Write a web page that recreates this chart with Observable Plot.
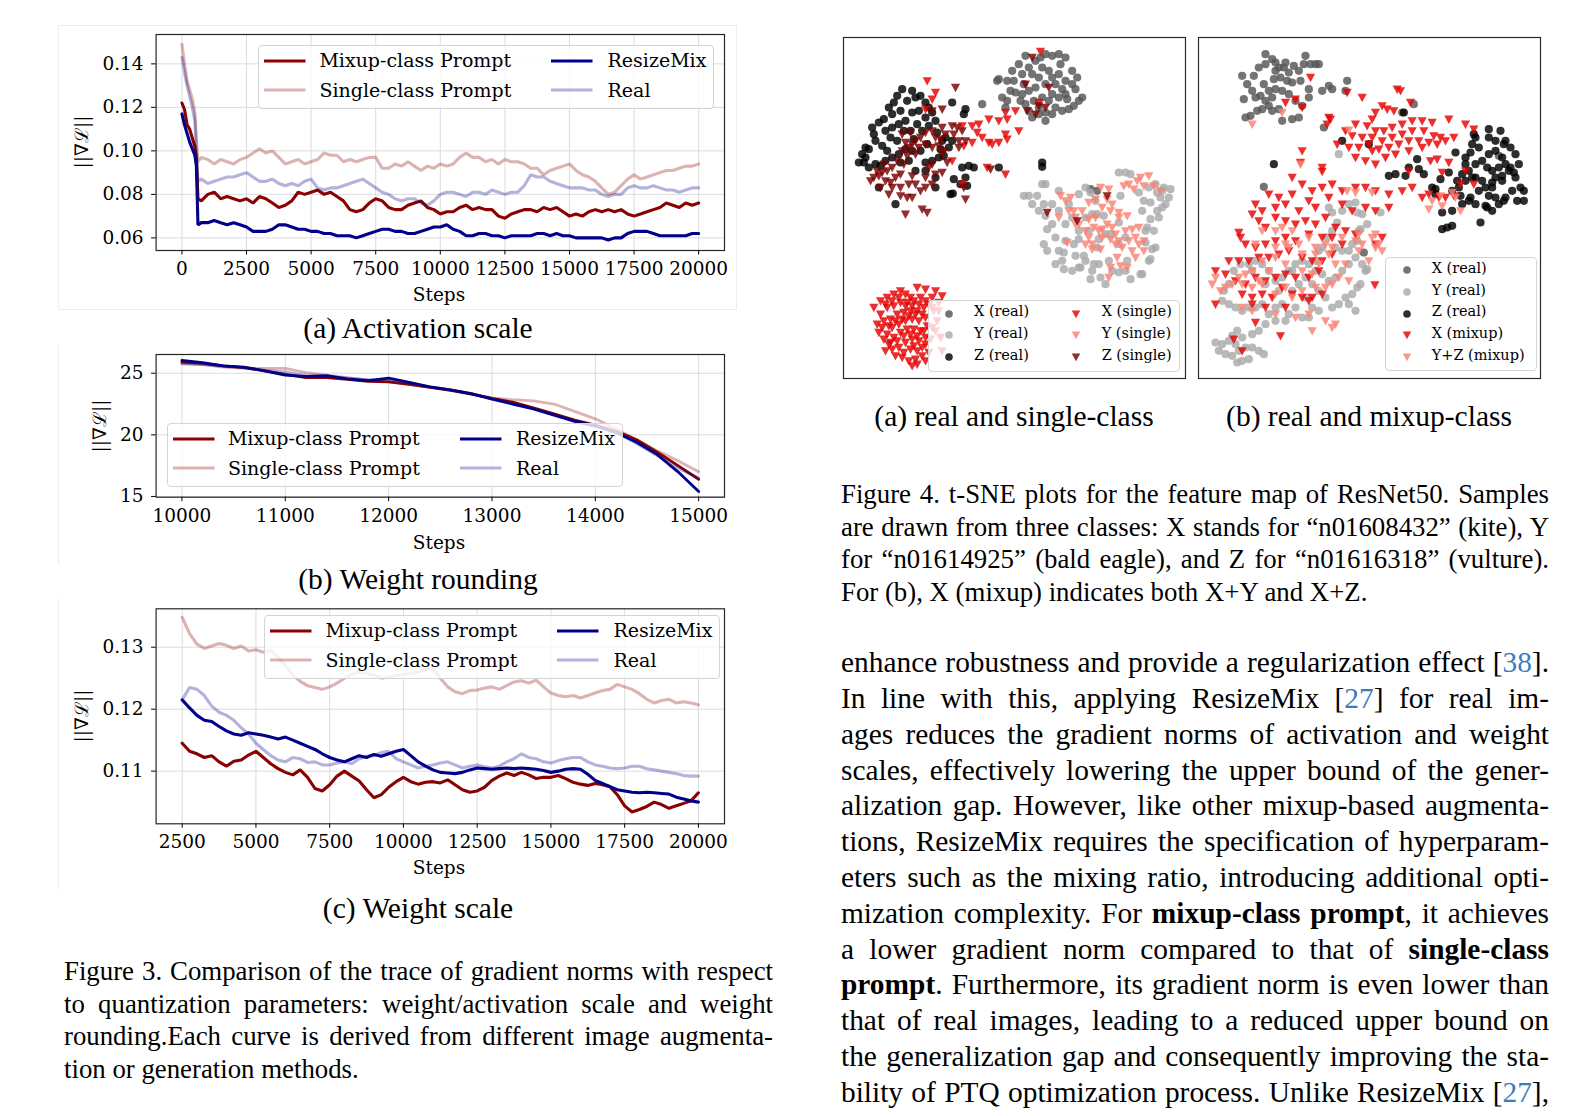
<!DOCTYPE html>
<html><head><meta charset="utf-8">
<script src="https://cdn.jsdelivr.net/npm/d3@7"></script>
<script src="https://cdn.jsdelivr.net/npm/@observablehq/plot@0.6"></script>
<style>
html,body{margin:0;padding:0;background:#fff;}
#page{position:relative;width:1595px;height:1116px;overflow:hidden;background:#fff;}
.ser{font-family:'Liberation Serif','Times New Roman',serif;color:#000;}
.dv{font-family:'DejaVu Serif',serif;color:#000;}
.jl{white-space:nowrap;overflow:visible;}
.cite{color:#3c7dc0;}
svg{overflow:visible;}
</style></head><body><div id="page"></div>
<script>
// ---------------- DATA ----------------
const seriesNames = ["Mixup-class Prompt", "Single-class Prompt", "ResizeMix", "Real"];
const seriesColors = ["#8b0000", "#8b0000", "#00008b", "#00008b"];
const seriesOpacity = [1, 0.3, 1, 0.3];

// (a) Activation scale
const stepsA = [0,100,200,300,400,500,560,620,750].concat(d3.range(1000, 20001, 250));
const mixupA = [0.122,0.119,0.112,0.110,0.106,0.102,0.097,0.078,0.077,
 0.080,0.081,0.078,0.079, 0.078,0.077,0.078,0.076, 0.079,0.078,0.076,0.074, 0.075,0.077,0.081,0.080,
 0.081,0.082,0.080,0.081, 0.079,0.077,0.073,0.072, 0.073,0.076,0.078,0.077, 0.074,0.073,0.073,0.075,
 0.076,0.077,0.074,0.073, 0.071,0.072,0.072,0.074, 0.075,0.073,0.074,0.073, 0.073,0.070,0.069,0.071,
 0.072,0.073,0.073,0.072, 0.074,0.073,0.074,0.072, 0.070,0.071,0.070,0.072, 0.073,0.072,0.073,0.072,
 0.073,0.071,0.070,0.071, 0.072,0.073,0.074,0.076, 0.075,0.074,0.076,0.075, 0.076];
const singleA = [0.149,0.140,0.132,0.128,0.124,0.118,0.105,0.095,0.097,
 0.096,0.094,0.096,0.095, 0.094,0.096,0.097,0.099, 0.101,0.099,0.100,0.097, 0.094,0.095,0.096,0.094,
 0.095,0.096,0.099,0.098, 0.098,0.095,0.096,0.095, 0.096,0.097,0.097,0.092, 0.092,0.094,0.093,0.095,
 0.093,0.091,0.093,0.092, 0.094,0.093,0.094,0.097, 0.099,0.097,0.097,0.095, 0.096,0.094,0.096,0.095,
 0.095,0.094,0.092,0.092, 0.089,0.091,0.092,0.093, 0.094,0.091,0.089,0.088, 0.086,0.083,0.080,0.081,
 0.084,0.087,0.089,0.087, 0.088,0.089,0.090,0.091, 0.091,0.092,0.093,0.093, 0.094];
const resizeA = [0.117,0.112,0.108,0.104,0.101,0.098,0.093,0.066,0.067,
 0.067,0.068,0.067,0.066, 0.067,0.066,0.065,0.063, 0.063,0.063,0.064,0.066, 0.066,0.065,0.064,0.064,
 0.063,0.063,0.062,0.062, 0.061,0.061,0.061,0.060, 0.061,0.062,0.063,0.064, 0.064,0.063,0.063,0.062,
 0.062,0.063,0.064,0.065, 0.065,0.066,0.064,0.063, 0.061,0.061,0.062,0.062, 0.061,0.061,0.060,0.061,
 0.061,0.061,0.061,0.062, 0.062,0.061,0.062,0.061, 0.061,0.060,0.060,0.060, 0.060,0.060,0.059,0.060,
 0.060,0.062,0.063,0.063, 0.063,0.062,0.061,0.061, 0.061,0.061,0.061,0.062, 0.062];
const realA = [0.143,0.136,0.130,0.125,0.120,0.114,0.100,0.086,0.087,
 0.085,0.086,0.087,0.088, 0.088,0.089,0.090,0.088, 0.086,0.086,0.087,0.085, 0.084,0.085,0.084,0.086,
 0.087,0.083,0.082,0.083, 0.083,0.084,0.085,0.086, 0.087,0.085,0.083,0.081, 0.080,0.078,0.077,0.078,
 0.078,0.076,0.075,0.077, 0.080,0.081,0.081,0.080, 0.079,0.081,0.081,0.080, 0.082,0.081,0.080,0.081,
 0.081,0.084,0.089,0.088, 0.088,0.086,0.085,0.084, 0.083,0.083,0.083,0.082, 0.082,0.080,0.079,0.080,
 0.080,0.083,0.084,0.083, 0.083,0.084,0.083,0.082, 0.082,0.081,0.082,0.083, 0.083];
const xTicksA = [0,2500,5000,7500,10000,12500,15000,17500,20000];
const yTicksA = [0.06,0.08,0.10,0.12,0.14];

// (b) Weight rounding
const stepsB = d3.range(10000, 15001, 200);
const mixupB = [25.9,25.8,25.6,25.45,25.2,24.9,24.65,24.65,24.5,24.35,24.3,24.1,23.85,23.6,23.3,22.95,22.65,22.2,21.7,21.2,20.8,20.3,19.6,18.6,17.5,16.4];
const singleB = [25.75,25.7,25.5,25.4,25.4,25.4,25.05,24.85,24.65,24.45,24.3,24.1,23.9,23.65,23.35,23.0,22.85,22.75,22.5,21.9,21.3,20.5,19.6,18.7,17.9,17.0];
const resizeB = [26.05,25.85,25.6,25.5,25.2,24.85,24.75,24.8,24.55,24.4,24.6,24.25,23.9,23.65,23.35,22.9,22.5,22.1,21.6,21.1,20.7,20.2,19.4,18.4,17.0,15.4];
const realB = [25.8,25.7,25.55,25.45,25.25,25.1,24.8,24.75,24.6,24.45,24.45,24.2,23.9,23.65,23.35,22.95,22.55,22.15,21.65,21.15,20.75,20.2,19.3,18.3,17.3,16.5];
const xTicksB = [10000,11000,12000,13000,14000,15000];
const yTicksB = [15,20,25];

// (c) Weight scale
const stepsC = d3.range(2500, 20001, 250);
const mixupC = [0.1145,0.1132,
 0.1128,0.1122,0.1125,0.1115, 0.1108,0.1116,0.1118,0.1126, 0.1132,0.1122,0.1112,0.1104, 0.1098,0.1094,0.1102,0.1090,
 0.1072,0.1068,0.1078,0.1092, 0.1100,0.1092,0.1084,0.1070, 0.1057,0.1062,0.1074,0.1083, 0.1090,0.1083,0.1079,0.1082,
 0.1083,0.1081,0.1086,0.1078, 0.1070,0.1066,0.1068,0.1074, 0.1085,0.1092,0.1097,0.1093, 0.1098,0.1094,0.1088,0.1090,
 0.1090,0.1093,0.1088,0.1082, 0.1079,0.1077,0.1080,0.1078, 0.1075,0.1062,0.1044,0.1034, 0.1038,0.1043,0.1050,0.1046,
 0.1040,0.1044,0.1048,0.1052, 0.1065];
const singleC = [0.1348,0.1322,
 0.1305,0.1298,0.1302,0.1306, 0.1303,0.1298,0.1302,0.1294, 0.1296,0.1292,0.1295,0.1284, 0.1270,0.1255,0.1245,0.1238,
 0.1235,0.1232,0.1236,0.1242, 0.1250,0.1256,0.1260,0.1258, 0.1255,0.1250,0.1252,0.1254, 0.1256,0.1258,0.1260,0.1264,
 0.1266,0.1250,0.1236,0.1228, 0.1225,0.1230,0.1231,0.1234, 0.1236,0.1232,0.1238,0.1244, 0.1246,0.1242,0.1247,0.1236,
 0.1226,0.1222,0.1220,0.1222, 0.1218,0.1222,0.1226,0.1230, 0.1232,0.1240,0.1236,0.1232, 0.1225,0.1216,0.1210,0.1214,
 0.1216,0.1210,0.1212,0.1210, 0.1207];
const resizeC = [0.1215,0.1202,
 0.1190,0.1182,0.1180,0.1172, 0.1165,0.1160,0.1158,0.1162, 0.1160,0.1158,0.1155,0.1152, 0.1155,0.1150,0.1145,0.1140,
 0.1135,0.1128,0.1122,0.1118, 0.1115,0.1120,0.1125,0.1122, 0.1127,0.1124,0.1128,0.1132, 0.1135,0.1125,0.1115,0.1108,
 0.1102,0.1098,0.1097,0.1096, 0.1098,0.1102,0.1105,0.1104, 0.1103,0.1104,0.1105,0.1104, 0.1105,0.1104,0.1103,0.1101,
 0.1098,0.1100,0.1103,0.1104, 0.1103,0.1095,0.1085,0.1080, 0.1075,0.1070,0.1068,0.1066, 0.1065,0.1066,0.1065,0.1064,
 0.1063,0.1058,0.1055,0.1052, 0.1050];
const realC = [0.1215,0.1235,
 0.1232,0.1222,0.1205,0.1195, 0.1190,0.1182,0.1170,0.1160, 0.1145,0.1135,0.1125,0.1118, 0.1115,0.1122,0.1120,0.1114,
 0.1115,0.1110,0.1110,0.1113, 0.1115,0.1112,0.1120,0.1124, 0.1125,0.1130,0.1132,0.1120, 0.1115,0.1110,0.1105,0.1108,
 0.1110,0.1113,0.1115,0.1110, 0.1105,0.1108,0.1110,0.1107, 0.1105,0.1108,0.1115,0.1120, 0.1128,0.1122,0.1120,0.1115,
 0.1113,0.1117,0.1120,0.1122, 0.1122,0.1115,0.1110,0.1108, 0.1105,0.1104,0.1105,0.1108, 0.1108,0.1104,0.1102,0.1100,
 0.1098,0.1096,0.1093,0.1092, 0.1092];
const xTicksC = [2500,5000,7500,10000,12500,15000,17500,20000];
const yTicksC = [0.11,0.12,0.13];

// t-SNE (a): real and single-class
const xRealA = [[-2,39.5],[0.5,39],[2.5,39],[4,44],[6,46.5],[5,41],[7,43],[9,45],[10.5,46],[12,47],[14,46.5],[16,47],[18,46],[20,42],[21.5,40],[23,34],[22,33],[20.5,31.5],[19,30.5],[17,30],[15,31],[14,29],[12,29.5],[10,29],[8,28],[7,30],[6,32],[5,35],[3,35.5],[0.5,33],[-1,34],[-2.5,39],[2,42],[8,41],[10,40],[12,38],[14,35],[16,34],[18,35],[20,38],[16,41],[13,42],[11,43],[9,37],[7,36],[11,34],[13,33],[15,38],[18,39],[8.5,33],[5.5,38],[16.5,44],[14,40],[10,31],[12,27],[18.5,33.5],[21,36.5],[4.5,33],[1.5,36],[-7,32],[0,31],[17,36.5],[25.5,6.5],[27.5,6]];
const yRealA = [[5.5,4.5],[7,4.5],[9.5,4.5],[11,8],[12,8],[11.5,2],[14,2],[16,0],[16,6],[12,-1.5],[12.5,-5.5],[11.5,-10],[12.5,-12],[15,-8],[16,-12],[15,-16],[17,-15],[17.5,-17.5],[20,-18],[22,-17],[24,-15],[20.5,-10],[22,-6],[24,-2],[26,-1],[18,-4],[20,-2],[19,2],[22,5],[24,7],[27,3],[28,-16],[26,-18],[25.5,-20.5],[28.5,-20],[30,-22],[32,-18],[34,-18.5],[36,-18],[37.5,-20.5],[41,-19],[43,-15],[45,-11],[42,-6],[44.5,-6],[41,0],[40,5.5],[43,7],[45,8],[47,6],[48,2],[49,4],[34,11.5],[36,11.5],[37.5,11],[46,-2],[8,2],[10,0],[14,-4],[31,-15],[36.5,-15],[30,-7],[34,-10],[34,-3.5],[22,-8.5],[27.5,-11],[25,-6],[41.5,3],[43.5,2.5],[46.5,4],[49.5,6.5],[47.5,7],[45.5,5.5],[47,1],[45.5,0],[43.5,-2.5],[42.5,-5],[42,-9.5],[44,-11.5],[43.5,-14.5],[40.5,-19],[22.5,-17],[23.5,-13.5],[21,-13.5],[17.5,-12.5],[18,-9],[26.5,-16],[27.5,-1],[25.5,5.5],[29.5,-1.5],[34.5,4.5],[36,-8],[31.5,-7],[28,-8.5]];
const zRealA = [[-44,14.5],[-42,16],[-41,18.5],[-40,25],[-38,26.5],[-36.5,27.5],[-36,24],[-34,29],[-33.5,32.5],[-32.5,34.5],[-31,36.5],[-29.5,33],[-28,36],[-27,34],[-25.5,34.5],[-24,32.5],[-23,31],[-22,29.5],[-21,27],[-24,28],[-26,30],[-28,29.5],[-30,27],[-32,26],[-34,25],[-34.5,22],[-32.5,21],[-30.5,24],[-28.5,24],[-26.5,26],[-25,24],[-23,25.5],[-20.5,23.5],[-19,21],[-18,22],[-16,21],[-17,19],[-18.5,16.5],[-20,16],[-22,15],[-24,14.5],[-25.5,18],[-28,18],[-30,18.5],[-32,17],[-34,16],[-36,15],[-37.5,13.5],[-39,14],[-41,13],[-42.5,14.5],[-37,19.5],[-39,21],[-29,15],[-27,12],[-24,12],[-21,10],[-38,7],[-33,2],[-16,32.5],[-12,30.5],[-12.5,29],[-13,13],[-11,13.5],[-9.5,13],[-12,10],[-11.5,7.5],[-15.5,9.5],[-16.5,5],[-15.8,5.2],[-13.5,8],[-21,7],[-2,13],[11,14.5],[11,13.2],[-42,19],[-39.5,23],[-35,31],[-31.5,30],[-27.5,21.5],[-23.5,20],[-19.5,18.5],[-31.5,14.5],[-35.5,18],[-43,17]];
const xSingleA = [[-39.5,-29],[-37.5,-27],[-35.5,-26],[-33.5,-25],[-31.5,-24],[-30,-25],[-28.5,-26],[-26.5,-23],[-24,-23.5],[-21,-24],[-19,-25.5],[-22,-26],[-25.5,-26],[-27.5,-27],[-29.5,-27.5],[-31.5,-27.5],[-33.5,-28.5],[-35.5,-29],[-37.5,-31],[-36.5,-33],[-34.5,-32.5],[-32.5,-31],[-30.5,-30.5],[-28.5,-30],[-26.5,-30],[-24.5,-29],[-23,-28],[-21.5,-30],[-24,-32],[-26,-33],[-28,-32.5],[-30,-33],[-32,-34],[-34,-35],[-35.5,-37],[-33.5,-38],[-31.5,-36.5],[-29.5,-35.5],[-27.5,-35.5],[-25.5,-36],[-23.5,-34.5],[-22,-35],[-24,-38],[-26,-39],[-28,-38.5],[-30,-39.5],[-32,-41],[-30.5,-42.5],[-28.5,-41.5],[-26.5,-42],[-25,-41],[-27,-44.5],[-26.5,-46],[-24,-45],[-29,-45],[-33,-43.5],[-36,-42],[-35,-40],[-38,-36.5],[-38.5,-34],[-24,-40],[-23,-42.5],[-20.5,-33],[-19.5,-38],[-20,-30],[-19,-42],
 [-36,-28],[-34,-27],[-32,-26],[-30,-28.5],[-28,-28.5],[-26,-28],[-24,-27],[-22,-29],[-25,-31],[-27,-31],[-29,-31.5],[-31,-32.5],[-33,-33],[-35,-34.5],[-37,-35],[-36.5,-38.5],[-34.5,-39.5],[-32.5,-39],[-30.5,-37.5],[-28.5,-37],[-26.5,-37.5],[-24.5,-36],[-22.5,-38.5],[-25,-43.5],[-27.5,-40.5],[-31,-44],[-28,-46.5],[-34,-41.5],[-21,-36],[-20,-27.5],
 [-23.5,39],[-21,35.5],[-22,33.5],[-24,30.5],[-10,25.5],[-13,25.5],[-8,26],[-5,27.5],[-2,27],[0.5,27.5],[0,29.5],[3,30],[4,24],[0.5,21.5],[-2,20.5],[-4,20],[-5,20.5],[-7,22],[-10,20.5],[-12.5,19.5],[-16,15],[-5.5,13],[0,11],[-13,8],[-8.5,23.5],[0,23],[10.5,47.8],[10,32.5]];
const ySingleA = [[16.5,4.5],[18,3],[19.5,4],[21,-2],[23,0],[25,2.5],[27,3.5],[28.5,7],[31,6.5],[29,1],[30.5,3.5],[32,2],[34,-0.5],[35.5,7.5],[37,8],[38.5,6.5],[40.5,10],[43,10.5],[44.5,7.5],[46.5,6],[22,-4],[24,-6],[25,-8],[26,-10],[28,-6],[29,-8],[30.5,-4],[32,-5],[33,-7],[34,-9],[35,-11],[36,-6],[37,-9],[38,-12],[39,-8],[40,-10],[41.5,-9],[41.5,-12],[39,-14],[36.5,-17],[34.5,-16.5],[33.5,-14],[31.5,-17],[31,-20],[28.5,-11.5],[26,-11.5],[24,-10],[34,-2],[36.5,-1.5],[38,-5.5],[40,-5],[19,0],[18.5,-9.5],[16,-2],[20.5,0],[27,-2],[29,-5.5],[31.5,-8.5],[33,-10],[31.5,0],[39.5,9],[41.5,7.5],[26.5,-5],[21,-4],[25,-2.5]];
const zSingleA = [[-40.5,9],[-39.5,10],[-38,10.5],[-37,11.5],[-35.5,12],[-34.5,8.5],[-34,7],[-33,10],[-31.5,11],[-30.5,14],[-29.5,16.5],[-29,19],[-28,20],[-27,21],[-25.5,22],[-24,20],[-22,19],[-21,22],[-19.5,21.5],[-18,23],[-16,25.5],[-14.5,25],[-13,24],[-14,21],[-12,21],[-15.5,23],[-19,25],[-22,24],[-24,23.5],[-26,19],[-27,17],[-30,20.5],[-31,18],[-32.5,15],[-34,13],[-36,9],[-37.5,7],[-35,5],[-31.5,4.5],[-29.5,4],[-28,4],[-30,-1],[-25,0.5],[-23.5,-0.5],[-25.5,6],[-27,8],[-24,7],[-22,8],[-21,11],[-19,11.5],[-24,10],[-28,10.5],[-29,8],[-31.5,7],[-38.5,12],[-36.5,14],[-12,3.5],[-12.5,7],[-4.5,12.5],[-14,19],[-19,17],[-15,37],[-28.5,23.5],[-31,23],[-22,30],[-19,30.5],[12.5,-0.5],[21.5,-3],[30.5,4.5],[8,46],[13,37],[6,38],[6.5,30],[9,29],[10,31.5],[12,31],[-22,14],[-17.5,14.5],[-18.5,18],[-23,13],[-20,19.5]];

// t-SNE (b): real and mixup-class
const xRealB = [[-35.5,40.5],[-34,38],[-32,40.5],[-30.5,43],[-28.5,44],[-28.5,47],[-26.5,45.5],[-25.5,44.5],[-24.5,43],[-23,43],[-22.5,44.5],[-21.5,41.5],[-20,43.5],[-18.5,42],[-17,44],[-16.5,46.5],[-15,44],[-13.5,44],[-12.5,44],[-11.5,36],[-9.5,37.5],[-8.5,36.5],[-4,39],[-4.5,36],[-15.5,36.5],[-15.5,34],[-17.5,31.5],[-19.5,33],[-21.5,35],[-23.5,36],[-25.5,36.5],[-26.5,34],[-28.5,33],[-29.5,30.5],[-31,30],[-33,28.5],[-34.5,28],[-35,33.5],[-32.5,36],[-30,34.5],[-27.5,36],[-24,40],[-22,39],[-26,39.5],[-29,38],[-31.5,34],[-20.5,38.5],[-18,39],[-26.5,30],[-27.5,31.5],[-24.5,30.5],[-23.5,27],[-20.5,27.5],[-18.5,28],[-25.5,42],[-11,25],[16,32],[12.5,29.5],[-29,7.2],[1,-12.5],[41.5,16.5]];
const yRealB = [[-6.5,17],[-7,-3.5],[-9.5,1],[-8.5,-0.5],[-5.5,0],[-3.5,2],[-1.5,2.5],[-1,-0.5],[0.5,-1],[2,-4],[0,-5.5],[-1,-9],[-2.5,-10],[-3.5,-12],[-5.5,-12],[-7.5,-11],[-8.5,-6],[-10,-8],[-11.5,-11],[-12.5,-12],[-13.5,-15],[-15.5,-16],[-17.5,-15],[-19.5,-16],[-21.5,-18],[-23.5,-20],[-25.5,-21],[-27.5,-18],[-29.5,-16],[-31.5,-15],[-33.5,-16],[-36,-16],[-38,-18],[-39.5,-22],[-41,-24],[-41.5,-27],[-39.5,-28],[-37.5,-29],[-35.5,-30],[-33.5,-29],[-31.5,-29],[-29.5,-28],[-27.5,-31],[-25.5,-29],[-23.5,-28],[-21.5,-31],[-20.5,-24],[-18.5,-22],[-16.5,-20],[-14.5,-22],[-12.5,-24],[-10.5,-26],[-8.5,-29],[-6.5,-28],[-4.5,-26],[-2.5,-25],[-1,-23],[0,-22],[1.5,-18],[0.5,-16],[-1.5,-14],[-3.5,-16],[-5.5,-18],[-7.5,-20],[-9.5,-21],[-11.5,-19],[-13.5,-18],[-16.5,-26],[-14.5,-29],[-19.5,-29],[-17.5,-32],[-22.5,-33],[-25.5,-33],[-28.5,-34],[-30.5,-36],[-32.5,-37],[-35.5,-38],[-37.5,-40],[-39.5,-39],[-41.5,-40],[-43.5,-39.5],[-42.5,-42],[-40.5,-43],[-38.5,-43.5],[-36.5,-42],[-34.5,-41],[-32.5,-41],[-30.5,-42],[-29,-43],[-37,-36],[-38.5,-37.5],[-35.5,-45],[-33.5,-44.5],[-37,-45.5],[-3.5,-28],[-1.5,-30],[-12.5,-30],[-32.5,-18],[-28.5,-22],[-24.5,-24],[-20.5,-18],[-15.5,-32],[6,-0.5],[2,-17.5],[-0.5,-6]];
const zRealB = [[-5.5,21],[2.5,20],[13,29.5],[8.5,10.5],[10.5,11],[13.5,10.5],[14.5,13],[17,15.5],[17.5,12.5],[19,11],[21.5,7],[22.5,5],[24,9.5],[24.5,-0.5],[27.5,0],[30.5,2],[27.5,6],[29.5,7],[29,9],[30.5,11],[31.5,14],[31.5,16],[33,17.5],[33.5,20],[34.5,22],[38.5,24.5],[38.5,22],[40.5,21],[42,24],[43.5,21],[45,19],[46.5,17],[47.5,14],[46.5,10],[45.5,6],[47,3],[49,3],[49,6],[48,7],[43,3],[41.5,2],[40.5,4],[38.5,4.5],[37.5,7],[36.5,9],[34.5,10],[32.5,12],[34.5,14],[36.5,15],[38.5,17],[40.5,18],[42.5,16],[41.5,13],[39.5,12],[40.5,10],[42.5,9],[44.5,12],[43.5,14],[35.5,19],[36,-3.5],[24.5,-5.5],[26,-5],[27.5,-4.5],[-26,14],[33,4],[34.5,2],[37.5,1.5],[39.5,0],[35.5,6],[39.5,7],[31.5,9],[34,23],[43,20],[28.5,17.5],[45,13],[46,11.5],[42.5,10.5],[43.5,4],[32.5,3],[30,4.5],[22.5,6.5],[26.5,11.5],[33.5,10],[38,13],[39.5,8.5],[38,1]];
const xMixB = [[-15,40],[-22.5,32.5],[-19.5,33.5],[-17.5,31],[-9,27.5],[-10,26],[-4,35.5],[0.5,34],[11,36.5],[12,36],[6.5,31.5],[8,30.5],[10,30],[15,32.5],[4.5,29.5],[3.5,27.5],[-1.5,26],[2,25.5],[4.5,24],[7,24],[9.5,25],[12.5,26],[15.5,27],[18.5,27],[21.5,26.5],[26.5,27.5],[31.5,26],[34,24.5],[-4.5,24],[-2.5,22.5],[0.5,22],[3.5,22],[6.5,21],[9.5,22],[12.5,23],[15.5,24],[19,24],[22,22.5],[24,22],[28,22],[-7,20],[-3.5,19],[-0.5,19],[2.5,20],[5.5,18.5],[8.5,19],[11.5,20],[14.5,21],[17.5,21],[20.5,20.5],[23,20],[25.5,21],[-1.5,16],[1.5,15],[4.5,14],[7.5,16],[10.5,17],[14.5,18],[18.5,19],[21,15],[23,15.5],[3.5,18],[-9.5,28],[-17.5,18],[-18,14.5],[-11.5,13],[-11.5,11.8],[-20.5,10],[-17.5,8],[-14.5,6],[-11.5,7],[-8.5,8],[-5.5,6],[-1.5,7],[1.5,7],[4.5,6],[8.5,5],[12.5,6],[15.5,7],[18.5,4],[20.5,5],[23.5,4],[25.5,4],[28,4.5],[30,8],[31.5,12],[34,8],[26.5,14.5],[24.5,11.5],[14.5,12],[-27.5,5],[-24.5,4],[-31.5,2],[-29.5,0],[-25.5,1],[-22.5,2],[-20.5,5],[-18.5,0],[-15.5,3],[-13.5,1],[-9.5,4],[-5.5,2],[-2.5,0],[1.5,1],[4.5,0],[8.5,1],[-32.5,-1],[-30.5,-3],[-28.5,-5],[-25.5,-2],[-22.5,-3],[-19.5,-4],[-16.5,-3],[-13.5,-4],[-10.5,-2],[-7.5,-5],[-4.5,-6],[-1.5,-7],[4.5,-10],[6.5,-8],[-36.5,-6.5],[-36,-8],[-34.5,-10],[-31.5,-11],[-28.5,-10],[-25.5,-9],[-22.5,-8],[-19.5,-9],[-15.5,-7],[-11.5,-8],[-8.5,-8],[-5.5,-10],[-39.5,-15],[-36.5,-15],[-33.5,-15],[-30.5,-14],[-27.5,-14],[-24.5,-13],[-21.5,-12],[-17.5,-14],[-14.5,-15],[-11.5,-15],[-8.5,-13],[-43.5,-18],[-40.5,-19],[-37.5,-21],[-34.5,-22],[-31.5,-20],[-28.5,-21],[-25.5,-20],[-22.5,-19],[-19.5,-20],[-15.5,-20],[-12.5,-18],[-35.5,-25],[-32.5,-26],[-29.5,-25],[-26.5,-26],[-23.5,-23],[-20.5,-25],[-17.5,-26],[-14.5,-26],[-11.5,-25],[-32.5,-28],[-28.5,-29],[-22.5,-29],[-15.5,-27],[-31.5,-33.5],[-43.5,-28],[-38,-38.5],[-35.5,-42],[-24,-37.5],[4.3,-22.2]];
const yzMixB = [[-32.5,26],[-23.5,29.5],[-18,14],[-3.5,24.2],[-4,6],[-1.5,5.5],[3.5,5.5],[20.5,0.5],[21.5,3],[24,4.5],[24.5,1.5],[27.5,5.5],[30,0],[28.5,4],[-31.5,-10],[-29.5,-6],[-25.5,-6],[-23.5,-5],[-20.5,-6],[-18.5,-10],[-15.5,-8],[-13.5,-11],[-10.5,-10],[-8.5,-11],[-5.5,-8],[-1.5,-9],[0.5,-10],[3.5,-8],[4.5,-7],[5.5,-10],[-17.5,-13],[-13.5,-13],[-9.5,-13],[-21.5,-11],[-25.5,-14],[-29.5,-15],[-32.5,-18],[-34.5,-19],[-36.5,-20],[-38.5,-22],[-35.5,-22],[-32.5,-23],[-29.5,-22],[-25.5,-25],[-22.5,-23],[-20.5,-26],[-17.5,-24],[-13.5,-23],[-10.5,-23],[-8.5,-22],[-6.5,-20],[-17.5,-18],[-22.5,-16],[-27.5,-18],[-30.5,-21],[-35.5,-29],[-32.5,-30],[-15.5,-31],[-10.5,-33],[-7.5,-34],[-14.5,-36],[-8.5,-35],[-42,-24],[-44.5,-22],[-43.5,-20],[-40.5,-23],[-3.5,-21],[-0.5,-12],[-12.5,-16],[-14.5,-19],[-25.5,-11],[-22.5,-10],[4.5,-11],[6.5,-12],[-0.5,-7],[2.5,-15],[-4.5,-16],[-7.5,-16],[-19.5,-32],[-25.5,-31]];

const tsneXDomain = [-48.6, 54];
const tsneYDomain = [-50.3, 52];

// ---------------- TEXT ----------------
const fig3Caption = [
 "Figure 3. Comparison of the trace of gradient norms with respect",
 "to quantization parameters: weight/activation scale and weight",
 "rounding.Each curve is derived from different image augmenta-",
 "tion or generation methods."];
const fig4Caption = [
 "Figure 4. t-SNE plots for the feature map of ResNet50. Samples",
 "are drawn from three classes: X stands for “n01608432” (kite), Y",
 "for “n01614925” (bald eagle), and Z for “n01616318” (vulture).",
 "For (b), X (mixup) indicates both X+Y and X+Z."];
const bodyLines = [
 'enhance robustness and provide a regularization effect [<span class="cite">38</span>].',
 'In line with this, applying ResizeMix [<span class="cite">27</span>] for real im-',
 'ages reduces the gradient norms of activation and weight',
 'scales, effectively lowering the upper bound of the gener-',
 'alization gap. However, like other mixup-based augmenta-',
 'tions, ResizeMix requires the specification of hyperparam-',
 'eters such as the mixing ratio, introducing additional opti-',
 'mization complexity. For <b>mixup-class prompt</b>, it achieves',
 'a lower gradient norm compared to that of <b>single-class</b>',
 '<b>prompt</b>. Furthermore, its gradient norm is even lower than',
 'that of real images, leading to a reduced upper bound on',
 'the generalization gap and consequently improving the sta-',
 'bility of PTQ optimization process. Unlike ResizeMix [<span class="cite">27</span>],'];

// ---------------- HELPERS ----------------
const page = document.getElementById('page');
function add(style, html, cls) {
  const e = document.createElement('div');
  e.setAttribute('style', 'position:absolute;' + style);
  if (cls) e.className = cls;
  if (html != null) e.innerHTML = html;
  page.appendChild(e);
  return e;
}
function centerText(txt, cx, cy, size, cls, extra) {
  return add(`left:${cx}px;top:${cy - size/2}px;transform:translateX(-50%);white-space:nowrap;font-size:${size}px;line-height:${size}px;${extra||''}`, txt, cls);
}

function lineChart(cfg) {
  const rows = [];
  seriesNames.forEach((name, i) => {
    const vals = cfg.values[i];
    const n = Math.min(vals.length, cfg.steps.length);
    for (let j = 0; j < n; j++) rows.push({name, step: cfg.steps[j], value: vals[j]});
  });
  const plot = Plot.plot({
    width: 740, height: cfg.height,
    marginLeft: 155.6, marginRight: 16, marginTop: cfg.mt, marginBottom: cfg.mb,
    style: {fontFamily: "'DejaVu Serif', serif", fontSize: "18.5px", color: "#000", background: "transparent", overflow: "visible"},
    x: {domain: cfg.xDomain, label: null},
    y: {domain: cfg.yDomain, label: null},
    marks: [
      Plot.gridX(cfg.xTicks, {stroke: "#dcdcdc", strokeOpacity: 1, strokeWidth: 1}),
      Plot.gridY(cfg.yTicks, {stroke: "#dcdcdc", strokeOpacity: 1, strokeWidth: 1}),
      ...seriesNames.map((name, i) => Plot.line(rows.filter(r => r.name === name),
        {x: "step", y: "value", stroke: seriesColors[i], strokeOpacity: seriesOpacity[i], strokeWidth: cfg.lw, strokeLinejoin: "bevel"})),
      Plot.frame({stroke: "#262626", strokeWidth: 1.2}),
      Plot.axisX(cfg.xTicks, {tickSize: 4.5, tickPadding: 7, tickFormat: d => String(d), label: null, fontSize: 18.5}),
      Plot.axisY(cfg.yTicks, {tickSize: 4.5, tickPadding: 8, tickFormat: cfg.yFmt, label: null, fontSize: 18.5})
    ]
  });
  const holder = add(`left:0px;top:${cfg.top}px;`);
  holder.appendChild(plot);
  add(`left:${cfg.ylx}px;top:${cfg.yly}px;transform:translate(-50%,-50%) rotate(-90deg);white-space:nowrap;font-size:18.5px;line-height:18.5px;`, "||∇ℒ||", "dv");
  centerText("Steps", 439, cfg.sty, 18.5, "dv");
  const L = cfg.legend;
  const box = add(`left:${L[0]}px;top:${L[1]}px;width:456px;height:64px;box-sizing:border-box;border:1px solid #d4d4d4;border-radius:4px;background:rgba(255,255,255,0.8);`);
  const items = [[0, 0, 0], [2, 1, 0], [1, 0, 1], [3, 1, 1]];
  items.forEach(([si, col, row]) => {
    const sx = col ? 293 : 6, tx = col ? 349.5 : 61.4, ry = row ? 45.3 : 15.8;
    const sw = document.createElementNS("http://www.w3.org/2000/svg", "svg");
    sw.setAttribute("width", "42"); sw.setAttribute("height", "8");
    sw.setAttribute("style", `position:absolute;left:${sx - 1}px;top:${ry - 4 - 1}px;`);
    sw.innerHTML = `<line x1="0" y1="4" x2="41.5" y2="4" stroke="${seriesColors[si]}" stroke-opacity="${seriesOpacity[si]}" stroke-width="2.8"/>`;
    box.appendChild(sw);
    const t = document.createElement('div');
    t.className = "dv";
    t.setAttribute("style", `position:absolute;left:${tx - 1}px;top:${ry - 9.5 - 1}px;font-size:19px;line-height:19px;white-space:nowrap;`);
    t.textContent = seriesNames[si];
    box.appendChild(t);
  });
}

// downward triangle symbol
const triDown = {
  draw(ctx, size) {
    const r = Math.sqrt(size / Math.PI);
    const w = r * 1.12;
    ctx.moveTo(-w, -r * 0.9);
    ctx.lineTo(w, -r * 0.9);
    ctx.lineTo(0, r * 1.15);
    ctx.closePath();
  }
};
const tsneStyles = {
  xReal: {fill: "#555555", symbol: "circle"},
  yReal: {fill: "#aaaaaa", symbol: "circle"},
  zReal: {fill: "#000000", symbol: "circle"},
  xSyn: {fill: "#e60000", symbol: triDown},
  ySyn: {fill: "#fa8072", symbol: triDown},
  zSyn: {fill: "#7a0000", symbol: triDown}
};
const MR = 4.1, MO = 0.82;
function tsnePlot(left, groups) {
  const plot = Plot.plot({
    width: 344, height: 343, marginTop: 1, marginRight: 1, marginBottom: 1, marginLeft: 1,
    style: {background: "transparent", overflow: "visible"},
    x: {domain: tsneXDomain, axis: null},
    y: {domain: tsneYDomain, axis: null},
    marks: [
      ...groups.map(([pts, st]) => Plot.dot(pts, {x: d => d[0], y: d => d[1], r: MR, fill: st.fill, fillOpacity: MO, stroke: "none", symbol: st.symbol})),
      Plot.frame({stroke: "#2a2a2a", strokeWidth: 1.2})
    ]
  });
  const holder = add(`left:${left - 1}px;top:35.6px;`);
  holder.appendChild(plot);
}
function markerSvg(st) {
  const r = 3.8;
  if (st.symbol === "circle") return `<circle cx="6" cy="6" r="${r}" fill="${st.fill}" fill-opacity="${MO}"/>`;
  const w = r * 1.12;
  return `<path d="M${6 - w},${6 - r*0.9}L${6 + w},${6 - r*0.9}L6,${6 + r*1.15}Z" fill="${st.fill}" fill-opacity="${MO}"/>`;
}
function tsneLegend(box, entries) {
  add(`left:${box[0]}px;top:${box[1]}px;width:${box[2]}px;height:${box[3]}px;box-sizing:border-box;border:1px solid #d4d4d4;border-radius:4px;background:rgba(255,255,255,0.8);`);
  entries.forEach(([label, st, mx, tx, y]) => {
    add(`left:${mx - 6}px;top:${y - 6}px;width:12px;height:12px;`, `<svg width="12" height="12">${markerSvg(st)}</svg>`);
    add(`left:${tx}px;top:${y - 7.5}px;font-size:14.5px;line-height:15px;white-space:nowrap;`, label, "dv");
  });
}

function textBlock(lines, left, top, width, size, lh, lastLeft) {
  lines.forEach((html, i) => {
    const d = add(`left:${left}px;top:${top + i * lh}px;width:${width}px;height:${lh}px;font-size:${size}px;line-height:${lh}px;`, `<span>${html}</span>`, "ser jl");
    d.dataset.just = (lastLeft && i === lines.length - 1) ? "0" : "1";
  });
}
function justifyAll() {
  page.querySelectorAll('.jl').forEach(div => {
    if (div.dataset.just !== "1") return;
    const span = div.firstChild;
    span.style.wordSpacing = "0px";
    const natural = span.getBoundingClientRect().width;
    const spaces = (span.textContent.match(/ /g) || []).length;
    if (spaces) span.style.wordSpacing = ((div.clientWidth - natural) / spaces) + "px";
  });
}

// ---------------- BUILD ----------------
add("left:58px;top:25px;width:679px;height:285px;border:1px solid #ededed;box-sizing:border-box;");
add("left:58px;top:346px;width:1px;height:219px;background:#ededed;");
add("left:58px;top:598px;width:1px;height:292px;background:#ededed;");

lineChart({top: 0, height: 320, mt: 34, mb: 70, xDomain: [-1000, 21000], xTicks: xTicksA,
  yDomain: [0.0542, 0.1535], yTicks: yTicksA, yFmt: d3.format(".2f"), steps: stepsA, lw: 3.1,
  values: [mixupA, singleA, resizeA, realA], ylx: 82, yly: 142, sty: 295, legend: [258, 45]});
centerText("(a) Activation scale", 418, 328.5, 29.5, "ser");

lineChart({top: 320, height: 240, mt: 34, mb: 63.3, xDomain: [9750, 15250], xTicks: xTicksB,
  yDomain: [14.94, 26.52], yTicks: yTicksB, yFmt: d3.format("d"), steps: stepsB, lw: 2.8,
  values: [mixupB, singleB, resizeB, realB], ylx: 100, yly: 426, sty: 543, legend: [166.5, 423]});
centerText("(b) Weight rounding", 418, 580, 29.5, "ser");

lineChart({top: 570, height: 320, mt: 38.3, mb: 66.7, xDomain: [1615, 20885], xTicks: xTicksC,
  yDomain: [0.1015, 0.1362], yTicks: yTicksC, yFmt: d3.format(".2f"), steps: stepsC, lw: 3.1,
  values: [mixupC, singleC, resizeC, realC], ylx: 82, yly: 716, sty: 868, legend: [264, 615]});
centerText("(c) Weight scale", 418, 908.4, 29.5, "ser");

textBlock(fig3Caption, 64, 955.1, 709, 26.8, 32.55, true);

tsnePlot(843, [[xRealA, tsneStyles.xReal], [yRealA, tsneStyles.yReal], [zRealA, tsneStyles.zReal],
  [xSingleA, tsneStyles.xSyn], [ySingleA, tsneStyles.ySyn], [zSingleA, tsneStyles.zSyn]]);
tsnePlot(1198, [[xRealB, tsneStyles.xReal], [yRealB, tsneStyles.yReal], [zRealB, tsneStyles.zReal],
  [xMixB, tsneStyles.xSyn], [yzMixB, tsneStyles.ySyn]]);
tsneLegend([928, 300, 252, 72], [
  ["X (real)", tsneStyles.xReal, 949, 974, 311.7], ["Y (real)", tsneStyles.yReal, 949, 974, 333.3], ["Z (real)", tsneStyles.zReal, 949, 974, 355],
  ["X (single)", tsneStyles.xSyn, 1075.5, 1101.7, 311.7], ["Y (single)", tsneStyles.ySyn, 1075.5, 1101.7, 333.3], ["Z (single)", tsneStyles.zSyn, 1075.5, 1101.7, 355]]);
tsneLegend([1385, 257, 152, 114], [
  ["X (real)", tsneStyles.xReal, 1406.7, 1431.7, 268.3], ["Y (real)", tsneStyles.yReal, 1406.7, 1431.7, 290], ["Z (real)", tsneStyles.zReal, 1406.7, 1431.7, 311.7],
  ["X (mixup)", tsneStyles.xSyn, 1406.7, 1431.7, 333.3], ["Y+Z (mixup)", tsneStyles.ySyn, 1406.7, 1431.7, 355]]);
centerText("(a) real and single-class", 1014, 417, 29.5, "ser");
centerText("(b) real and mixup-class", 1369, 417, 29.5, "ser");

textBlock(fig4Caption, 841, 478.1, 708, 26.8, 32.55, true);
textBlock(bodyLines, 841, 645.3, 708, 29.4, 35.78, false);

justifyAll();
if (document.fonts && document.fonts.ready) document.fonts.ready.then(justifyAll);
</script></body></html>
